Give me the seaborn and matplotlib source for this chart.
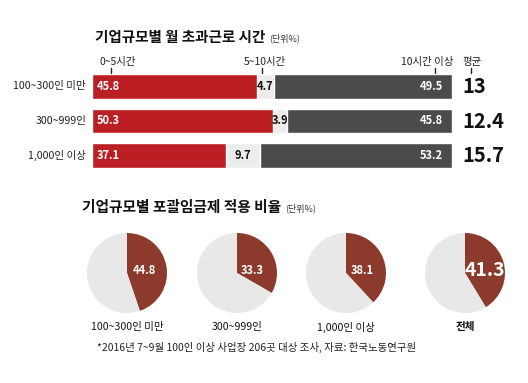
"""Overtime hours and all-inclusive wage system by company size."""

import numpy as np
import pandas as pd
import matplotlib
matplotlib.use("Agg")
import matplotlib.pyplot as plt
import seaborn as sns

sns.set_style("white")
plt.rcParams['font.family'] = ['Noto Sans CJK KR', 'DejaVu Sans']
plt.rcParams['axes.unicode_minus'] = False

# data
sizes = ["100~300인 미만", "300~999인", "1,000인 이상"]
hours_0_5 = [45.8, 50.3, 37.1]
hours_5_10 = [4.7, 3.9, 9.7]
hours_10_plus = [49.5, 45.8, 53.2]
avg_hours = ["13", "12.4", "15.7"]
hour_headers = ["0~5시간", "5~10시간", "10시간 이상", "평균"]

pie_labels = ["100~300인 미만", "300~999인", "1,000인 이상", "전체"]
pie_values = [44.8, 33.3, 38.1, 41.3]

RED = "#BB1F24"
MID = "#EDEDED"
DARK = "#4B4B4B"
BROWN = "#8C3A2B"
PIE_GREY = "#E8E8E8"

W, H = 528, 383
fig = plt.figure(figsize=(W / 100, H / 100), dpi=100)
fig.patch.set_facecolor("white")


def fx(x):
    return x / W


def fy(y):
    return 1 - y / H


def title_with_unit(x, y, title, unit, size):
    t = fig.text(fx(x), fy(y), title, fontsize=size, fontweight="bold",
                 va="center", ha="left", color="#111111")
    fig.canvas.draw()
    bb = t.get_window_extent()
    fig.text(bb.x1 / W + 4 / W, fy(y + 1), unit, fontsize=6.5, va="center",
             ha="left", color="#333333")


# ---- stacked bars ----
df = pd.DataFrame({"size": sizes, "a": hours_0_5, "b": hours_5_10, "c": hours_10_plus})
df["ab"] = df["a"] + df["b"]
df["abc"] = df["ab"] + df["c"]

bar_left, bar_right = 92, 452
row_step = 34.5
top = 86.5 - row_step / 2
bottom = top + 3 * row_step
ax = fig.add_axes([fx(bar_left), fy(bottom), (bar_right - bar_left) / W, (bottom - top) / H])
sns.barplot(data=df, y="size", x="abc", color=DARK, orient="h", width=0.72, saturation=1, ax=ax)
sns.barplot(data=df, y="size", x="ab", color=MID, orient="h", width=0.72, saturation=1, ax=ax)
sns.barplot(data=df, y="size", x="a", color=RED, orient="h", width=0.72, saturation=1, ax=ax)
ax.set_xlim(0, 100)
ax.set_ylim(2.5, -0.5)
ax.axis("off")

for i, row in df.iterrows():
    ax.text(1.4, i, f"{row['a']:.1f}", color="white", fontsize=8, fontweight="bold",
            va="center", ha="left")
    ax.text(row["a"] + row["b"] / 2, i, f"{row['b']:.1f}", color="#111111", fontsize=8,
            fontweight="bold", va="center", ha="center")
    ax.text(97.5, i, f"{row['c']:.1f}", color="white", fontsize=8, fontweight="bold",
            va="center", ha="right")
    ax.text(-1.6, i, row["size"], fontsize=7.6, va="center", ha="right", color="#222222")
    ax.text(103, i, avg_hours[i], fontsize=14.5, fontweight="bold", va="center",
            ha="left", color="#111111")

# column headers with small ticks
header_pos = [(99, 111, "left"), (265, 262, "center"), (453, 435, "right"), (472, 471, "center")]
for (tx, tick_x, ha), lab in zip(header_pos, hour_headers):
    fig.text(fx(tx), fy(62), lab, fontsize=7.5, va="center", ha=ha, color="#222222")
    fig.add_artist(plt.Line2D([fx(tick_x), fx(tick_x)], [fy(68), fy(73)],
                              color="#222222", lw=1))

title_with_unit(95, 37, "기업규모별 월 초과근로 시간", "(단위%)", 10.5)

# ---- pies ----
title_with_unit(82, 207, "기업규모별 포괄임금제 적용 비율", "(단위%)", 10.6)

centers = [127, 237, 346, 465]
cy = 273
r = 40
for k, (cx, lab, val) in enumerate(zip(centers, pie_labels, pie_values)):
    pax = fig.add_axes([fx(cx - r), fy(cy + r), 2 * r / W, 2 * r / H])
    wedges, _ = pax.pie([val, 100 - val], colors=[BROWN, PIE_GREY], startangle=90,
                        counterclock=False, radius=1, wedgeprops=dict(linewidth=0))
    pax.set_xlim(-1, 1)
    pax.set_ylim(-1, 1)
    pax.set_aspect("equal")
    pax.axis("off")
    big = k == 3
    mid = np.deg2rad(90 - val * 3.6 / 2)
    px = 0.44 * np.cos(mid)
    pax.text(px if not big else 0.5, 0.05, f"{val:.1f}", color="white",
             fontsize=14 if big else 8, fontweight="bold", ha="center", va="center")
    fig.text(fx(cx), fy(327), lab, fontsize=7.6, ha="center", va="center",
             color="#111111", fontweight="bold" if big else "normal")

fig.text(fx(97), fy(347), "*2016년 7~9월 100인 이상 사업장 206곳 대상 조사, 자료: 한국노동연구원",
         fontsize=7.5, ha="left", va="center", color="#222222")

fig.savefig("out.png", dpi=100, facecolor="white")
